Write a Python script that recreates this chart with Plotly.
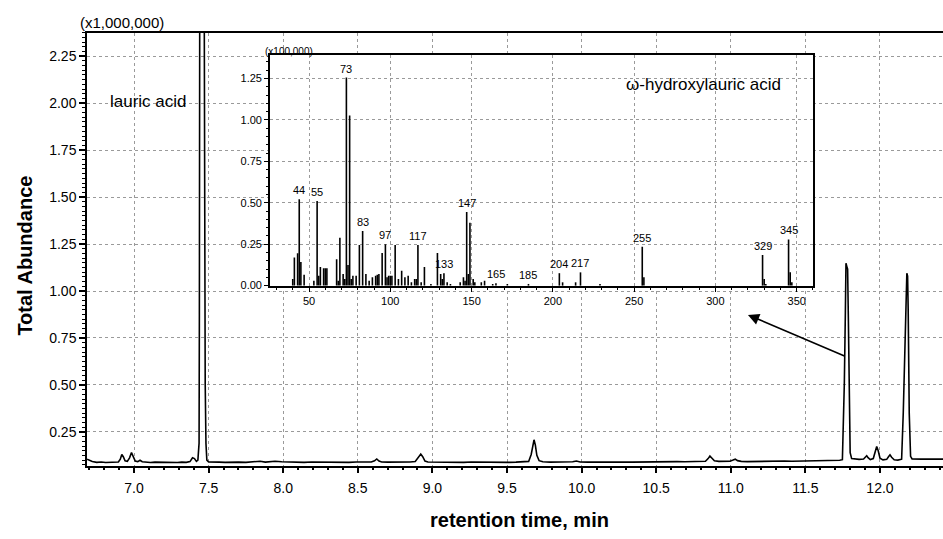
import plotly.graph_objects as go

# ---- total ion chromatogram (abundance in units of 1,000,000) ----
rt_min = [
    6.685, 6.70, 6.72, 6.75, 6.78, 6.81, 6.84, 6.87, 6.895, 6.908, 6.918, 6.928, 6.94, 6.955,
    6.97, 6.983, 6.995, 7.008, 7.025, 7.04, 7.055, 7.08, 7.11, 7.14, 7.17, 7.20, 7.23, 7.26,
    7.29, 7.32, 7.35, 7.375, 7.392, 7.405, 7.418, 7.428, 7.436, 7.438, 7.441, 7.469, 7.471,
    7.475, 7.477, 7.482, 7.488, 7.50, 7.53, 7.57, 7.61, 7.65, 7.70, 7.75, 7.80, 7.845, 7.88,
    7.945, 7.99, 8.04, 8.09, 8.14, 8.19, 8.24, 8.29, 8.34, 8.39, 8.44, 8.49, 8.54, 8.59, 8.612,
    8.627, 8.642, 8.66, 8.70, 8.75, 8.80, 8.85, 8.885, 8.905, 8.922, 8.935, 8.95, 8.97, 9.01,
    9.06, 9.11, 9.16, 9.21, 9.26, 9.31, 9.36, 9.41, 9.46, 9.51, 9.56, 9.61, 9.645, 9.662, 9.674,
    9.681, 9.69, 9.70, 9.715, 9.74, 9.79, 9.84, 9.89, 9.94, 9.965, 9.99, 10.04, 10.09, 10.14,
    10.19, 10.24, 10.29, 10.34, 10.39, 10.44, 10.49, 10.54, 10.59, 10.64, 10.69, 10.74, 10.79,
    10.83, 10.848, 10.86, 10.874, 10.89, 10.92, 10.96, 10.995, 11.015, 11.03, 11.045, 11.07,
    11.11, 11.16, 11.21, 11.26, 11.31, 11.36, 11.41, 11.46, 11.51, 11.56, 11.61, 11.66, 11.70,
    11.73, 11.748, 11.761, 11.768, 11.772, 11.778, 11.783, 11.788, 11.793, 11.80, 11.81, 11.83,
    11.86, 11.89, 11.902, 11.911, 11.92, 11.935, 11.955, 11.968, 11.978, 11.988, 12.00, 12.02,
    12.045, 12.057, 12.067, 12.078, 12.095, 12.12, 12.145, 12.156, 12.174, 12.180, 12.185,
    12.189, 12.196, 12.205, 12.215, 12.24, 12.28, 12.33, 12.38, 12.4223,
]
abundance = [
    0.105, 0.100, 0.092, 0.088, 0.090, 0.087, 0.089, 0.088, 0.090, 0.105, 0.130, 0.118, 0.096, 0.093,
    0.112, 0.140, 0.115, 0.095, 0.092, 0.099, 0.091, 0.089, 0.087, 0.089, 0.088, 0.087, 0.089, 0.088,
    0.087, 0.089, 0.088, 0.092, 0.112, 0.108, 0.093, 0.100, 0.190, 0.880, 3.000, 3.000, 2.060,
    2.000, 0.510, 0.190, 0.100, 0.090, 0.088, 0.089, 0.088, 0.090, 0.089, 0.088, 0.090, 0.094, 0.089,
    0.094, 0.091, 0.089, 0.090, 0.088, 0.090, 0.089, 0.088, 0.090, 0.089, 0.088, 0.090, 0.089, 0.090, 0.096,
    0.106, 0.095, 0.090, 0.089, 0.088, 0.089, 0.090, 0.092, 0.112, 0.132, 0.118, 0.095, 0.090, 0.089,
    0.088, 0.090, 0.089, 0.088, 0.090, 0.089, 0.088, 0.089, 0.090, 0.088, 0.089, 0.090, 0.093, 0.130, 0.195,
    0.208, 0.180, 0.125, 0.097, 0.091, 0.089, 0.090, 0.089, 0.091, 0.095, 0.090, 0.089, 0.090, 0.089,
    0.090, 0.089, 0.090, 0.089, 0.090, 0.091, 0.090, 0.091, 0.090, 0.092, 0.091, 0.092, 0.093,
    0.094, 0.108, 0.122, 0.110, 0.096, 0.093, 0.092, 0.094, 0.100, 0.105, 0.097, 0.093,
    0.092, 0.093, 0.094, 0.093, 0.094, 0.095, 0.094, 0.095, 0.096, 0.095, 0.097, 0.096, 0.098,
    0.099, 0.102, 0.510, 0.890, 1.148, 1.130, 1.116, 0.850, 0.400, 0.140, 0.108, 0.105,
    0.104, 0.106, 0.114, 0.123, 0.113, 0.103, 0.108, 0.145, 0.172, 0.150, 0.110, 0.101,
    0.104, 0.118, 0.128, 0.115, 0.102, 0.100, 0.105, 0.352, 0.898, 1.095, 1.080,
    0.900, 0.350, 0.120, 0.106, 0.105, 0.105, 0.106, 0.105, 0.105,
]

# ---- mass spectrum of the 11.78 min peak (intensity in units of 100,000) ----
mz = [
    40, 41, 43, 44, 45, 47, 53, 55, 56, 57, 59, 60, 61, 67, 68, 69, 71, 72, 73, 74, 75, 76, 77, 79,
    81, 83, 85, 87, 89, 91, 92, 93, 95, 97, 98, 99, 100, 101, 103, 105, 107, 109, 111, 113, 115,
    116, 117, 119, 121, 125, 129, 131, 132, 133, 135, 137, 143, 145, 146, 147, 148, 149, 151, 152,
    156, 158, 163, 165, 172, 185, 204, 206, 214, 217, 229, 255, 256, 329, 330, 331, 345, 346, 347,
]
intensity = [
    0.04, 0.17, 0.195, 0.522, 0.143, 0.066, 0.03, 0.51, 0.06, 0.113, 0.105, 0.105, 0.105, 0.159,
    0.03, 0.289, 0.07, 0.04, 1.256, 0.125, 1.027, 0.04, 0.06, 0.06,
    0.245, 0.329, 0.07, 0.03, 0.05, 0.06, 0.065, 0.07, 0.197, 0.249, 0.05, 0.06, 0.06, 0.06, 0.245,
    0.04, 0.09, 0.05, 0.06, 0.02, 0.04,
    0.04, 0.245, 0.02, 0.113, 0.01, 0.197, 0.07, 0.04, 0.075, 0.02, 0.01, 0.02, 0.05, 0.03, 0.444,
    0.07, 0.379, 0.04, 0.02,
    0.02, 0.03, 0.01, 0.015, 0.01, 0.01, 0.075, 0.02, 0.02, 0.08, 0.01, 0.235, 0.05, 0.185, 0.04,
    0.01, 0.279, 0.08, 0.02,
]
labelled_mz = [44, 55, 73, 83, 97, 117, 133, 147, 165, 185, 204, 217, 255, 329, 345]

FONT = "Liberation Sans, Arial, sans-serif"
GRID = "#9a9a9a"

# subplot placement (paper fractions) and axis ranges
MAIN_X = [0.0923, 1.0]
MAIN_Y = [0.1280, 0.9388]
INSET_X = [0.2863, 0.8621]
INSET_Y = [0.4642, 0.8961]
RT_RANGE = [6.685, 12.4223]
AB_RANGE = [0.0704, 2.3752]

fig = go.Figure()

# white panel behind the inset so the chromatogram grid does not show through
def paper_to_data(p, dom, rng):
    return rng[0] + (p - dom[0]) / (dom[1] - dom[0]) * (rng[1] - rng[0])

px0 = paper_to_data(INSET_X[0], MAIN_X, RT_RANGE)
px1 = paper_to_data(INSET_X[1], MAIN_X, RT_RANGE)
py0 = paper_to_data(INSET_Y[0], MAIN_Y, AB_RANGE)
py1 = paper_to_data(INSET_Y[1], MAIN_Y, AB_RANGE)
fig.add_trace(go.Scatter(
    x=[px0, px1, px1, px0, px0], y=[py0, py0, py1, py1, py0],
    mode="lines", fill="toself", fillcolor="white", line=dict(width=0, color="white"),
    xaxis="x", yaxis="y", hoverinfo="skip", showlegend=False,
))

fig.add_trace(go.Scatter(
    x=rt_min, y=abundance, mode="lines",
    line=dict(color="black", width=1.6),
    xaxis="x", yaxis="y", hoverinfo="skip", showlegend=False,
))

# stick spectrum: one vertical segment per m/z
stem_x, stem_y = [], []
for m, h in zip(mz, intensity):
    stem_x += [m, m, None]
    stem_y += [0, h, None]
fig.add_trace(go.Scatter(
    x=stem_x, y=stem_y, mode="lines",
    line=dict(color="black", width=1.6),
    xaxis="x2", yaxis="y2", hoverinfo="skip", showlegend=False,
))

tick_font_main = dict(family=FONT, size=14, color="black")
tick_font_inset = dict(family=FONT, size=11, color="black")

fig.update_layout(
    width=943, height=539,
    margin=dict(l=0, r=0, t=0, b=0),
    paper_bgcolor="white", plot_bgcolor="white",
    showlegend=False,
    xaxis=dict(
        domain=MAIN_X, anchor="y", range=RT_RANGE,
        tick0=0, dtick=0.5, tickformat=".1f", tickfont=tick_font_main,
        ticks="outside", ticklen=6, tickwidth=1.5, tickcolor="black",
        ticklabelstandoff=3,
        minor=dict(dtick=0.1, tick0=0, ticks="outside", ticklen=3, tickwidth=1.5,
                   tickcolor="black", showgrid=False),
        showline=True, linecolor="black", linewidth=1.6, mirror=True,
        showgrid=True, gridcolor=GRID, griddash="dot", gridwidth=1,
        zeroline=False,
    ),
    yaxis=dict(
        domain=MAIN_Y, anchor="x", range=AB_RANGE,
        tick0=0, dtick=0.25, tickformat=".2f", tickfont=tick_font_main,
        ticks="outside", ticklen=6, tickwidth=1.5, tickcolor="black",
        minor=dict(dtick=0.025, tick0=0, ticks="outside", ticklen=3, tickwidth=1,
                   tickcolor="black", showgrid=False),
        showline=True, linecolor="black", linewidth=1.6,
        showgrid=True, gridcolor=GRID, griddash="dot", gridwidth=1,
        zeroline=False,
    ),
    xaxis2=dict(
        domain=INSET_X, anchor="y2", range=[26, 360],
        tick0=0, dtick=50, tickfont=tick_font_inset,
        ticks="outside", ticklen=4, tickwidth=1.2, tickcolor="black",
        minor=dict(dtick=10, tick0=0, ticks="outside", ticklen=2, tickwidth=1,
                   tickcolor="black", showgrid=False),
        showline=True, linecolor="black", linewidth=1.6, mirror=True,
        showgrid=True, gridcolor=GRID, griddash="dot", gridwidth=1,
        zeroline=False,
    ),
    yaxis2=dict(
        domain=INSET_Y, anchor="x2", range=[-0.003, 1.389],
        tick0=0, dtick=0.25, tickformat=".2f", tickfont=tick_font_inset,
        ticks="outside", ticklen=4, tickwidth=1.2, tickcolor="black",
        minor=dict(dtick=0.05, tick0=0, ticks="outside", ticklen=2, tickwidth=1,
                   tickcolor="black", showgrid=False),
        showline=True, linecolor="black", linewidth=1.6, mirror=True,
        showgrid=True, gridcolor=GRID, griddash="dot", gridwidth=1,
        zeroline=False,
    ),
)

# m/z labels above the labelled sticks
height_of = dict(zip(mz, intensity))
for m in labelled_mz:
    fig.add_annotation(x=m, y=height_of[m], xref="x2", yref="y2", text=str(m),
                       showarrow=False, yanchor="bottom", xanchor="center", yshift=1,
                       font=dict(family=FONT, size=11, color="black"))

# scale factors and compound names
fig.add_annotation(x=0.0827, y=0.9573, xref="paper", yref="paper", text="(x1,000,000)",
                   showarrow=False, xanchor="left", yanchor="middle",
                   font=dict(family=FONT, size=15, color="black"))
fig.add_annotation(x=0.2789, y=0.9041, xref="paper", yref="paper", text="(x100,000)",
                   showarrow=False, xanchor="left", yanchor="middle",
                   font=dict(family=FONT, size=10, color="black"))
fig.add_annotation(x=0.158, y=0.8108, xref="paper", yref="paper", text="lauric acid",
                   showarrow=False, xanchor="center", yanchor="middle",
                   font=dict(family=FONT, size=17, color="black"))
fig.add_annotation(x=0.746, y=0.8423, xref="paper", yref="paper", text="ω-hydroxylauric acid",
                   showarrow=False, xanchor="center", yanchor="middle",
                   font=dict(family=FONT, size=17, color="black"))

# arrow from the 11.78 min peak to its spectrum
fig.add_annotation(x=11.115, y=0.873, ax=11.772, ay=0.651, xref="x", yref="y",
                   axref="x", ayref="y", text="", showarrow=True,
                   arrowhead=2, arrowsize=1.4, arrowwidth=1.6, arrowcolor="black")

# axis titles
fig.add_annotation(x=0.0265, y=0.5213, xref="paper", yref="paper", text="<b>Total Abundance</b>",
                   showarrow=False, textangle=-90, xanchor="center", yanchor="middle",
                   font=dict(family=FONT, size=20, color="black"))
fig.add_annotation(x=0.5514, y=0.026, xref="paper", yref="paper", text="<b>retention time, min</b>",
                   showarrow=False, xanchor="center", yanchor="middle",
                   font=dict(family=FONT, size=20, color="black"))

fig.write_html("out.html")
